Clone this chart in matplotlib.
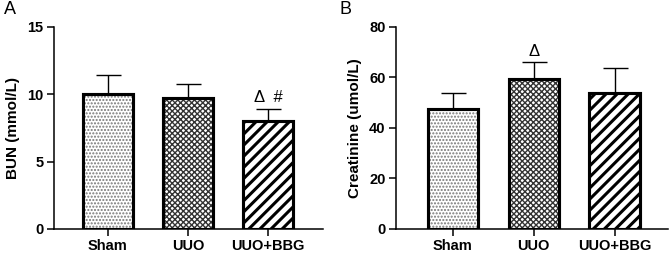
import numpy as np
import matplotlib
matplotlib.use('Agg')
import matplotlib.pyplot as plt

plt.rcParams['font.family'] = ['Liberation Sans', 'DejaVu Sans']

######################## Data ############################
groups = ['Sham', 'UUO', 'UUO+BBG']
bun_mean = [10.0, 9.75, 8.0]
bun_sd = [1.45, 1.05, 0.9]
crea_mean = [47.5, 59.5, 54.0]
crea_sd = [6.5, 6.5, 9.8]
bun_marks = ['', '', 'Δ  #']
crea_marks = ['', 'Δ', '']

hatches = ['.....', 'xxxxxx', '///']
hatch_cols = ['#777777', '#333333', 'black']
hatch_lw = [1.0, 1.0, 2.2]


def draw_panel(ax, means, sds, marks, ymax, yticks, ylabel, xlim, mark_off):
    x = np.arange(len(groups))
    for i in range(len(groups)):
        ax.bar(x[i], means[i], width=0.62, color='white', edgecolor='black',
               linewidth=2.2, zorder=2)
        hb = ax.bar(x[i], means[i], width=0.62, color='none', edgecolor=hatch_cols[i],
                    hatch=hatches[i], linewidth=0, zorder=2)
        for p in hb:
            p.set_hatch_linewidth(hatch_lw[i])
        ax.bar(x[i], means[i], width=0.62, color='none', edgecolor='black',
               linewidth=2.2, zorder=3)
    ax.errorbar(x, means, yerr=[np.zeros(len(sds)), sds], fmt='none',
                ecolor='black', elinewidth=1.0, capsize=9, capthick=1.0, zorder=1)
    for i, m in enumerate(marks):
        if m:
            ax.text(x[i], means[i] + sds[i] + mark_off, m, ha='center',
                    va='bottom', fontsize=12)
    ax.set_ylim(0, ymax)
    ax.set_yticks(yticks)
    ax.set_xlim(*xlim)
    ax.set_xticks(x)
    ax.set_xticklabels(groups)
    ax.set_ylabel(ylabel, fontsize=11, fontweight='bold', labelpad=5)
    for lab in ax.get_xticklabels() + ax.get_yticklabels():
        lab.set_fontweight('bold')
        lab.set_fontsize(10.5)
    ax.spines['top'].set_visible(False)
    ax.spines['right'].set_visible(False)
    ax.spines['left'].set_linewidth(1.1)
    ax.spines['bottom'].set_linewidth(1.1)
    ax.tick_params(axis='both', width=1.1, length=5, pad=2.5)


fig = plt.figure(figsize=(6.7, 2.57), dpi=100)
ax1 = fig.add_axes([0.0806, 0.109, 0.401, 0.786])
ax2 = fig.add_axes([0.591, 0.109, 0.406, 0.786])

draw_panel(ax1, bun_mean, bun_sd, bun_marks, 15, [0, 5, 10, 15],
           'BUN (mmol/L)', (-0.67, 2.68), 0.3)
draw_panel(ax2, crea_mean, crea_sd, crea_marks, 80, [0, 20, 40, 60, 80],
           'Creatinine (umol/L)', (-0.70, 2.66), 1.5)

fig.text(0.006, 0.995, 'A', fontsize=13, va='top', ha='left')
fig.text(0.506, 0.995, 'B', fontsize=13, va='top', ha='left')

fig.savefig('out.png', dpi=100)
